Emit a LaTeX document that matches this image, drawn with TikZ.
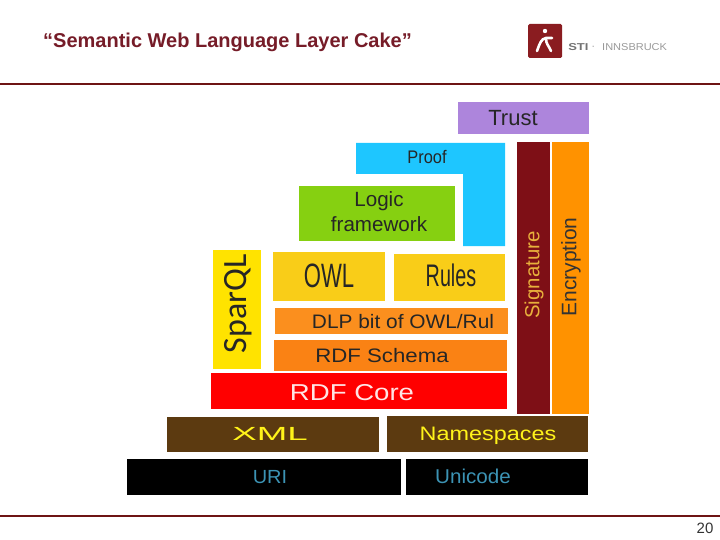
\documentclass[tikz,border=0pt]{standalone}
\usepackage{fontspec}
\setmainfont{Liberation Sans}
\newfontfamily\sparfont{Carlito}
\definecolor{trustc}{HTML}{AD85DC}
\definecolor{proofc}{HTML}{1EC6FF}
\definecolor{logicc}{HTML}{86D011}
\definecolor{sparc}{HTML}{FFE300}
\definecolor{owlc}{HTML}{F9CD18}
\definecolor{dlpc}{HTML}{FB8F1E}
\definecolor{schemac}{HTML}{FA8214}
\definecolor{corec}{HTML}{FF0000}
\definecolor{xmlc}{HTML}{5C3A10}
\definecolor{sigc}{HTML}{7E0F16}
\definecolor{encc}{HTML}{FF9200}
\definecolor{uritext}{HTML}{3C93B4}
\definecolor{rulec}{HTML}{6E1414}
\definecolor{logoc}{HTML}{8A1C20}
\definecolor{titlec}{HTML}{761C28}
\definecolor{sigtext}{HTML}{E8B03C}
\tikzset{
  layer/.style={font=\fontsize{#1}{#1}\selectfont, inner sep=0pt, align=center},
  layer/.default=15,
  rulestroke/.style={draw=rulec, line width=1.1pt}
}
\begin{document}
\begin{tikzpicture}[x=1pt,y=-1pt]
    \useasboundingbox (0,0) rectangle (720,540);

    % slide frame
    \node[anchor=west, inner sep=0pt, text=titlec, font=\fontsize{20}{21}\selectfont\bfseries] (title) at (43,42) {“Semantic Web Language Layer Cake”};
    \draw[rulestroke] (0,84) -- (720,84);
    \draw[rulestroke] (0,516) -- (720,516);
    \node[inner sep=0pt, text=black!80, font=\fontsize{15}{15}\selectfont] (pagenum) at (705,528) {20};

    % logo
    \fill[logoc, rounded corners=1.5pt] (528,24) rectangle (562,58);
    \fill[white] (545,31) circle (2.2);
    \draw[white, line width=2.6pt, line cap=round] (537,51) .. controls (540,43) and (541,39) .. (546,38) -- (552,38);
    \draw[white, line width=2.6pt, line cap=round] (546,39) .. controls (546,44) and (549,46) .. (551,51);
    \node[anchor=west, inner sep=0pt, text=black!55, xscale=1.3, font=\fontsize{10}{10}\selectfont\bfseries] (logosti) at (568,47) {STI};
    \node[anchor=west, inner sep=0pt, text=black!45, font=\fontsize{10}{10}\selectfont] (logodot) at (591.5,48) {·};
    \node[anchor=west, inner sep=0pt, text=black!40, xscale=1.1, font=\fontsize{10}{10}\selectfont] (logoinn) at (602,47) {INNSBRUCK};

    % bottom layers
    \fill[black] (127,459) rectangle (401,495);
    \node[layer=19, text=uritext, xscale=1.05] (uri) at (270,477) {URI};
    \fill[black] (406,459) rectangle (588,495);
    \node[layer=20, text=uritext, xscale=1.03] (unicode) at (473,476) {Unicode};

    \fill[xmlc] (167,417) rectangle (379,452);
    \node[layer=19, text=yellow!90!white, xscale=1.93] (xml) at (270,434) {XML};
    \fill[xmlc] (387,416) rectangle (588,452);
    \node[layer=19.5, text=yellow!90!white, xscale=1.2] (namespaces) at (488,436) {Namespaces};

    \fill[corec] (211,373) rectangle (507,409);
    \node[layer=23, text=white!90!red, xscale=1.2] (rdfcore) at (352,393) {RDF Core};
    \fill[schemac] (274,340) rectangle (507,371);
    \node[layer=19.5, text=black!85, xscale=1.14] (schema) at (382,356) {RDF Schema};
    \fill[dlpc] (275,308) rectangle (508,334);
    \node[layer=19.5, text=black!85, xscale=1.07] (dlp) at (403,322) {DLP bit of OWL/Rul};

    \fill[owlc] (273,252) rectangle (385,301);
    \node[layer=26, text=black!85, xscale=0.85, yscale=1.3] (owl) at (329,276) {OWL};
    \fill[owlc] (394,254) rectangle (505,301);
    \node[layer=26, text=black!85, xscale=0.76, yscale=1.2] (rules) at (451,275) {Rules};
    \fill[sparc] (213,250) rectangle (261,369);
    \node[layer=34, text=black!85, rotate=90, font=\fontsize{34}{34}\sparfont] (sparql) at (238,304) {SparQL};

    % upper layers
    \fill[logicc] (299,186) rectangle (455,241);
    \node[layer=20.6, text=black!85] (logic) at (379,211.5) {Logic\\[4pt]framework};
    \fill[proofc] (356,143) -- (505,143) -- (505,246) -- (463,246) -- (463,174) -- (356,174) -- cycle;
    \node[layer=18.2, text=black!85, xscale=0.9] (proof) at (427,157) {Proof};
    \fill[trustc] (458,102) rectangle (589,134);
    \node[layer=22, text=black!85] (trust) at (513,118) {Trust};

    % side columns
    \fill[sigc] (517,142) rectangle (550,414);
    \node[layer=20.4, text=sigtext, rotate=90] (signature) at (534,275) {Signature};
    \fill[encc] (552,142) rectangle (589,414);
    \node[layer=21, text=black!80, rotate=90] (encryption) at (571,267) {Encryption};
\end{tikzpicture}
\end{document}
